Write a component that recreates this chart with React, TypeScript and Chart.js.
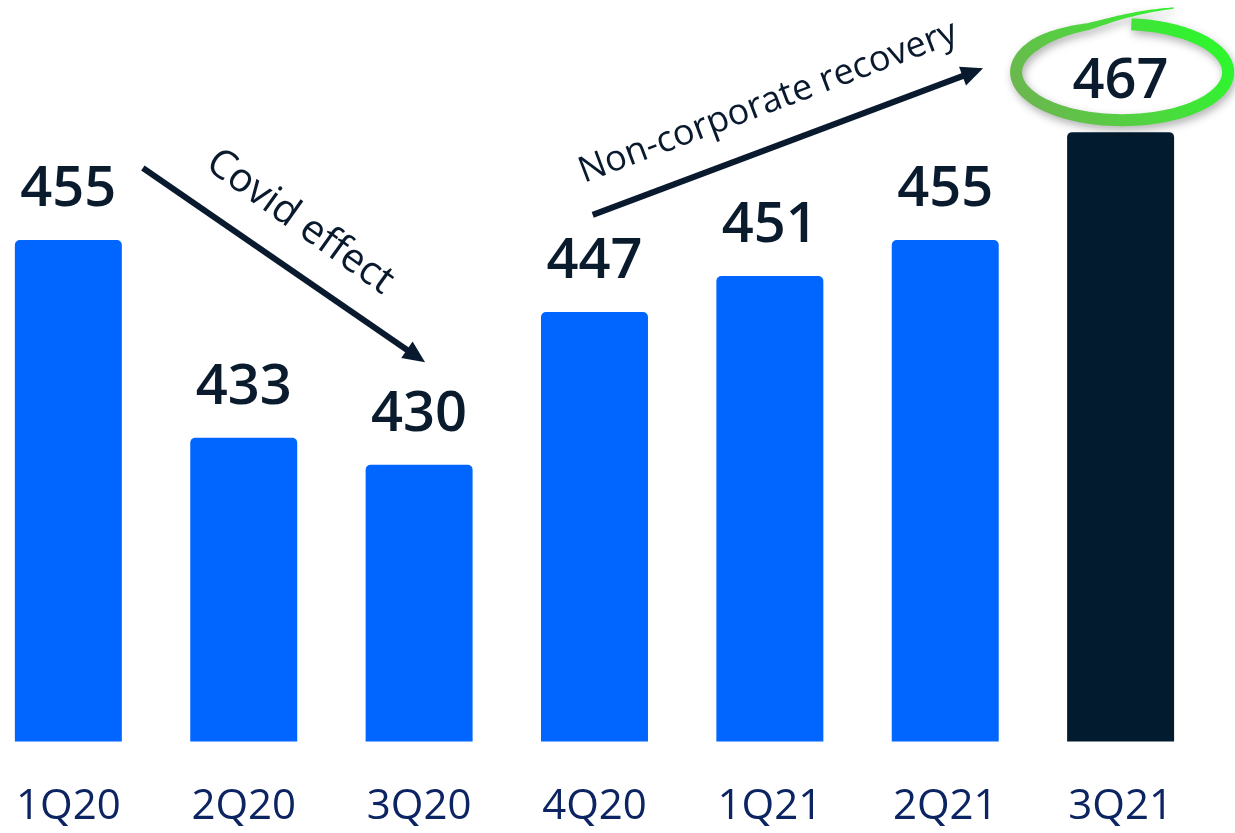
import React, { useEffect, useRef } from "react";
import { Chart, registerables } from "chart.js";

Chart.register(...registerables);

// ---- data ----
const categories = ["1Q20", "2Q20", "3Q20", "4Q20", "1Q21", "2Q21", "3Q21"];
const values = [455, 433, 430, 447, 451, 455, 467];
const barColors = ["#0066ff", "#0066ff", "#0066ff", "#0066ff", "#0066ff", "#0066ff", "#021b2f"];
const yMin = 399.2;
const yMax = 481.7;

// annotation anchors in (category index, value) space
const covidArrow = { from: [0.425, 463.0], to: [2.034, 441.4] };
const covidText = { text: "Covid effect", at: [1.32, 457.0], angle: 35.5, size: 40 };
const recoveryArrow = { from: [2.99, 457.8], to: [5.216, 474.1] };
const recoveryText = { text: "Non-corporate recovery", at: [3.99, 470.3], angle: -20.7, size: 36 };

const INK = "#0a1a2e";

function drawArrow(ctx: CanvasRenderingContext2D, x1: number, y1: number, x2: number, y2: number) {
  const ang = Math.atan2(y2 - y1, x2 - x1);
  const headLen = 22;
  const headW = 10;
  const bx = x2 - headLen * Math.cos(ang);
  const by = y2 - headLen * Math.sin(ang);
  ctx.save();
  ctx.strokeStyle = INK;
  ctx.fillStyle = INK;
  ctx.lineWidth = 6;
  ctx.lineCap = "butt";
  ctx.beginPath();
  ctx.moveTo(x1, y1);
  ctx.lineTo(bx + 2 * Math.cos(ang), by + 2 * Math.sin(ang));
  ctx.stroke();
  ctx.beginPath();
  ctx.moveTo(x2, y2);
  ctx.lineTo(bx + headW * Math.sin(ang), by - headW * Math.cos(ang));
  ctx.lineTo(bx - headW * Math.sin(ang), by + headW * Math.cos(ang));
  ctx.closePath();
  ctx.fill();
  ctx.restore();
}

function drawRotatedText(ctx: CanvasRenderingContext2D, text: string, x: number, y: number, angleDeg: number, size: number) {
  ctx.save();
  ctx.translate(x, y);
  ctx.rotate((angleDeg * Math.PI) / 180);
  ctx.font = `400 ${size}px 'Open Sans'`;
  ctx.fillStyle = INK;
  ctx.textAlign = "center";
  ctx.textBaseline = "middle";
  ctx.fillText(text, 0, 0);
  ctx.restore();
}

function drawHighlight(ctx: CanvasRenderingContext2D, cx: number, cy: number, rx: number, ry: number) {
  const pts: { x: number; y: number; w: number }[] = [];
  const t0 = -85;
  const t1 = 290;
  const steps = 300;
  for (let i = 0; i <= steps; i++) {
    const deg = t0 + ((t1 - t0) * i) / steps;
    const th = (deg * Math.PI) / 180;
    let f = 1;
    if (deg > 250) f = 1 + 0.42 * Math.pow((deg - 250) / 40, 1.5);
    let w = 12;
    if (deg > 215) w = 12 - 10.5 * ((deg - 215) / 75);
    pts.push({ x: cx + rx * f * Math.cos(th), y: cy + ry * f * Math.sin(th), w });
  }
  const outer: [number, number][] = [];
  const inner: [number, number][] = [];
  for (let i = 0; i < pts.length; i++) {
    const a = pts[Math.max(0, i - 1)];
    const b = pts[Math.min(pts.length - 1, i + 1)];
    let tx = b.x - a.x;
    let ty = b.y - a.y;
    const len = Math.hypot(tx, ty) || 1;
    tx /= len;
    ty /= len;
    const nx = -ty;
    const ny = tx;
    const p = pts[i];
    outer.push([p.x + (nx * p.w) / 2, p.y + (ny * p.w) / 2]);
    inner.push([p.x - (nx * p.w) / 2, p.y - (ny * p.w) / 2]);
  }
  ctx.save();
  const g = ctx.createLinearGradient(cx + 70, cy - 55, cx - 80, cy + 50);
  g.addColorStop(0, "#2ef52e");
  g.addColorStop(0.5, "#4fd63f");
  g.addColorStop(1, "#6ab84e");
  ctx.fillStyle = g;
  ctx.shadowColor = "rgba(0,0,0,0.3)";
  ctx.shadowBlur = 9;
  ctx.shadowOffsetX = 2;
  ctx.shadowOffsetY = 4;
  ctx.beginPath();
  outer.forEach(([x, y], i) => (i === 0 ? ctx.moveTo(x, y) : ctx.lineTo(x, y)));
  for (let i = inner.length - 1; i >= 0; i--) ctx.lineTo(inner[i][0], inner[i][1]);
  ctx.closePath();
  ctx.fill();
  ctx.restore();
}

const annotationPlugin = {
  id: "annotations",
  afterDatasetsDraw(chart: any) {
    const ctx: CanvasRenderingContext2D = chart.ctx;
    const xs = chart.scales.x;
    const ys = chart.scales.y;
    const x0 = xs.getPixelForValue(0);
    const step = xs.getPixelForValue(1) - x0;
    const P = (p: number[]) => ({ x: x0 + p[0] * step, y: ys.getPixelForValue(p[1]) });
    const meta = chart.getDatasetMeta(0);

    // highlight around last value
    const last: any = meta.data[meta.data.length - 1];
    drawHighlight(ctx, last.x + 1.5, last.y - 60, 106, 48);

    // value labels
    ctx.save();
    ctx.font = "600 56px 'Open Sans'";
    ctx.fillStyle = "#0b1b2e";
    ctx.textAlign = "center";
    ctx.textBaseline = "alphabetic";
    meta.data.forEach((bar: any, i: number) => {
      ctx.fillText(String(values[i]), bar.x, bar.y - 34);
    });
    ctx.restore();

    // arrows and texts
    const ca1 = P(covidArrow.from);
    const ca2 = P(covidArrow.to);
    drawArrow(ctx, ca1.x, ca1.y, ca2.x, ca2.y);
    const ct = P(covidText.at);
    drawRotatedText(ctx, covidText.text, ct.x, ct.y, covidText.angle, covidText.size);

    const ra1 = P(recoveryArrow.from);
    const ra2 = P(recoveryArrow.to);
    drawArrow(ctx, ra1.x, ra1.y, ra2.x, ra2.y);
    const rt = P(recoveryText.at);
    drawRotatedText(ctx, recoveryText.text, rt.x, rt.y, recoveryText.angle, recoveryText.size);
  },
};

export default function App() {
  const ref = useRef<HTMLCanvasElement | null>(null);

  useEffect(() => {
    document.body.style.margin = "0";
    const canvas = ref.current;
    if (!canvas) return;
    const chart = new Chart(canvas, {
      type: "bar",
      data: {
        labels: categories,
        datasets: [
          {
            data: values,
            backgroundColor: barColors,
            borderRadius: 5,
            borderSkipped: "start",
            barPercentage: 0.61,
            categoryPercentage: 1,
          },
        ],
      },
      options: {
        responsive: false,
        animation: false,
        devicePixelRatio: 1,
        layout: { padding: { left: 0, right: 26.7, top: 0, bottom: 0 } },
        plugins: {
          legend: { display: false },
          tooltip: { enabled: false },
        },
        scales: {
          x: {
            grid: { display: false, drawTicks: false },
            border: { display: false },
            ticks: {
              color: "#0c2461",
              font: { family: "'Open Sans'", size: 42, weight: 400 },
              padding: 40,
              maxRotation: 0,
            },
          },
          y: {
            display: false,
            min: yMin,
            max: yMax,
          },
        },
      },
      plugins: [annotationPlugin],
    });
    return () => chart.destroy();
  }, []);

  return (
    <div style={{ position: "fixed", left: 0, top: 0, width: 1235, height: 833, overflow: "hidden", background: "#ffffff" }}>
      <canvas
        ref={ref}
        width={1259}
        height={872}
        style={{ position: "absolute", left: -24, top: 0, width: 1259, height: 872 }}
      />
    </div>
  );
}
